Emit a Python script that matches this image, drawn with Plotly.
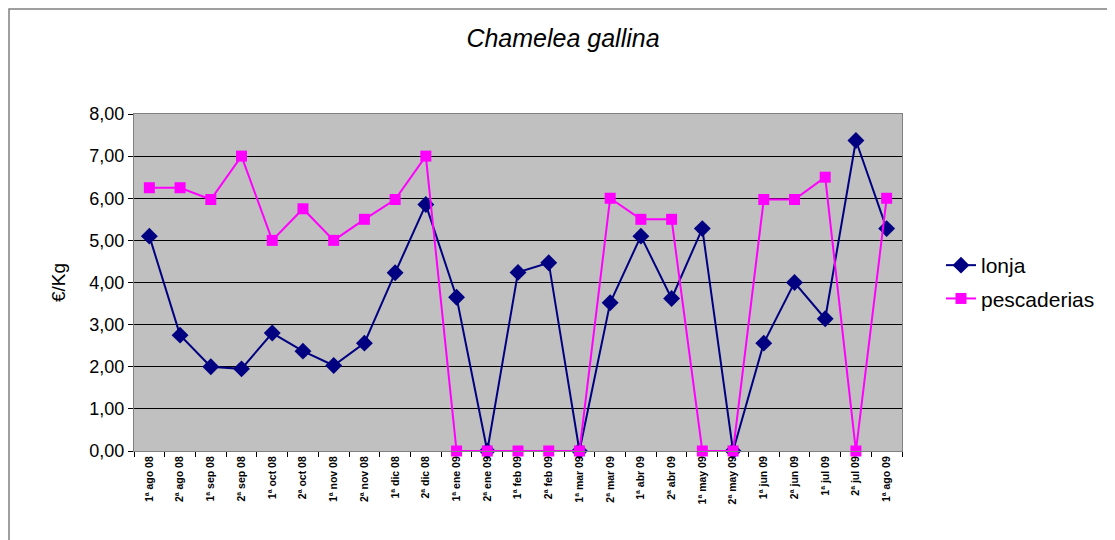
import plotly.graph_objects as go

categories = ["1ª ago 08", "2ª ago 08", "1ª sep 08", "2ª sep 08", "1ª oct 08", "2ª oct 08",
              "1ª nov 08", "2ª nov 08", "1ª dic 08", "2ª dic 08", "1ª ene 09", "2ª ene 09",
              "1ª feb 09", "2ª feb 09", "1ª mar 09", "2ª mar 09", "1ª abr 09", "2ª abr 09",
              "1ª may 09", "2ª may 09", "1ª jun 09", "2ª jun 09", "1ª jul 09", "2ª jul 09",
              "1ª ago 09"]
lonja = [5.10, 2.75, 2.00, 1.95, 2.80, 2.37, 2.03, 2.56, 4.23, 5.85, 3.65, 0.0,
         4.24, 4.47, 0.0, 3.52, 5.10, 3.62, 5.28, 0.0, 2.56, 4.00, 3.14, 7.37, 5.28]
pescaderias = [6.25, 6.25, 5.97, 7.00, 5.00, 5.75, 5.00, 5.50, 5.97, 7.00, 0.0, 0.0,
               0.0, 0.0, 0.0, 6.00, 5.50, 5.50, 0.0, 0.0, 5.97, 5.97, 6.50, 0.0, 6.00]
y_ticks = [0, 1, 2, 3, 4, 5, 6, 7, 8]
y_tick_labels = ["0,00", "1,00", "2,00", "3,00", "4,00", "5,00", "6,00", "7,00", "8,00"]

fig = go.Figure()
fig.add_trace(go.Scatter(
    x=categories, y=lonja, name="lonja", mode="lines+markers",
    line=dict(color="#000080", width=2), legendgroup="a",
    marker=dict(symbol="diamond", size=13, color="#000080"),
    cliponaxis=False))
fig.add_trace(go.Scatter(
    x=categories, y=pescaderias, name="pescaderias", mode="lines+markers",
    line=dict(color="#FF00FF", width=2), legendgroup="b",
    marker=dict(symbol="square", size=11, color="#FF00FF"),
    cliponaxis=False))

L, R, T, B = 126, 221, 106, 97
PW, PH = 1115 - L - R, 540 - T - B

fig.update_layout(
    width=1115, height=540,
    margin=dict(l=L, r=R, t=T, b=B),
    paper_bgcolor="white",
    plot_bgcolor="#C0C0C0",
    font=dict(family="Liberation Sans, Arial, sans-serif", color="black"),
    title=dict(text="<i>Chamelea gallina</i>", x=555/1115, xanchor="center",
               y=1 - 30/540, yanchor="middle", font=dict(size=25)),
    showlegend=True,
    legend=dict(x=(941 - 134)/PW, xanchor="left", y=(451 - 282)/PH, yanchor="middle",
                font=dict(size=21), tracegroupgap=3, bgcolor="rgba(0,0,0,0)"),
    xaxis=dict(type="category", tickangle=-90, ticks="outside", ticklen=5,
               tickcolor="black", showgrid=False, showline=True, linecolor="#808080",
               linewidth=1, mirror=True, range=[-0.5, 24.5],
               tickfont=dict(size=10.5, weight="bold"), tickson="boundaries"),
    yaxis=dict(range=[0, 8], tickvals=y_ticks, ticktext=y_tick_labels,
               ticks="outside", ticklen=5, tickcolor="black",
               showgrid=True, gridcolor="black", gridwidth=1,
               showline=True, linecolor="#808080", linewidth=1, mirror=True,
               tickfont=dict(size=18), zeroline=False,
               title=dict(text="€/Kg", font=dict(size=19), standoff=18)),
)

fig.add_shape(type="rect", xref="paper", yref="paper",
              x0=(1 - L)/PW, x1=(1130 - L)/PW,
              y0=(PH + T - 560)/PH, y1=(PH + T - 1)/PH,
              line=dict(color="#808080", width=1.5), layer="below")

fig.write_html("out.html")
